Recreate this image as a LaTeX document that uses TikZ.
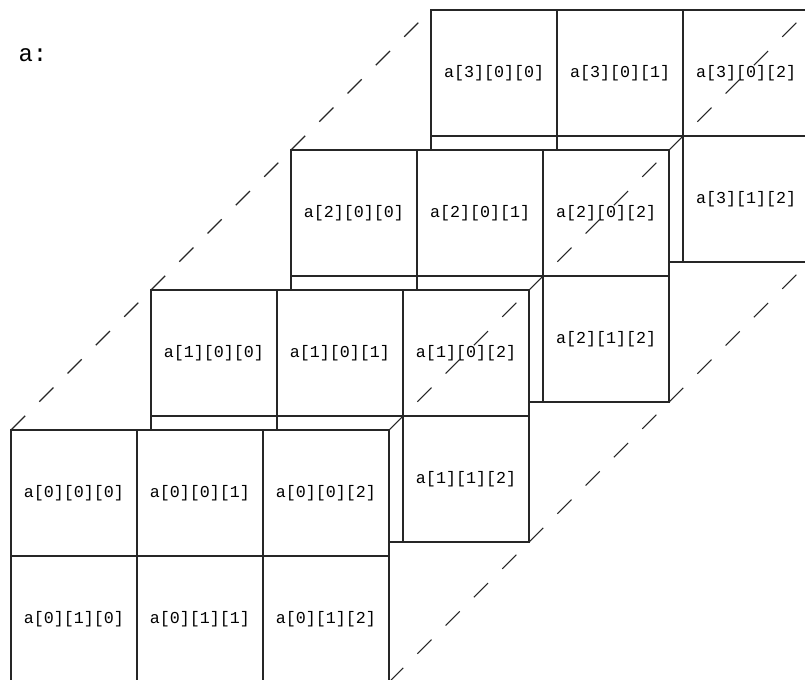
\documentclass[tikz,border=0pt]{standalone}
\usepackage{fontspec}
\setmonofont{Liberation Mono}

\begin{document}
\begin{tikzpicture}[
    x=0.75pt, y=-0.75pt,
    cell/.style={rectangle, draw=black!85, fill=white, line width=0.8pt, minimum size=94.5pt, outer sep=0pt, font=\ttfamily\fontsize{12.5}{15}\selectfont},
    guide/.style={draw=black!85, line width=0.8pt, dash pattern=on 15pt off 15pt}
]
\useasboundingbox (0,0) rectangle (805,680);
\clip (0,0) rectangle (805,680);

% 标题
\node[font=\ttfamily\fontsize{18}{20}\selectfont] (title) at (33,55) {a:};

% 各层，由后向前
\foreach \k in {3,2,1,0} {
  \pgfmathsetmacro{\ox}{74+140*\k}
  \pgfmathsetmacro{\oy}{493-140*\k}
  \node[cell] (c\k00) at (\ox,\oy) {a[\k][0][0]};
  \node[cell] (c\k01) at (\ox+126,\oy) {a[\k][0][1]};
  \node[cell] (c\k02) at (\ox+252,\oy) {a[\k][0][2]};
  \node[cell] (c\k10) at (\ox,\oy+126) {\ifnum\k=0 a[\k][1][0]\fi};
  \node[cell] (c\k11) at (\ox+126,\oy+126) {\ifnum\k=0 a[\k][1][1]\fi};
  \node[cell] (c\k12) at (\ox+252,\oy+126) {a[\k][1][2]};
}

% 虚线
\foreach \k in {0,1,2} {
  \pgfmathtruncatemacro{\n}{\k+1}
  \draw[guide] (c\k00.north west) -- (c\n00.north west);
  \draw[guide] (c\k02.north east) -- (c\n02.north east);
  \draw[guide] (c\k12.south east) -- (c\n12.south east);
}
\end{tikzpicture}
\end{document}
